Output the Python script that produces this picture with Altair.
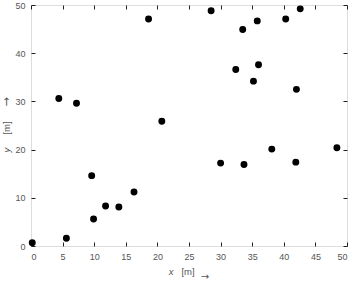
import altair as alt
import pandas as pd

x_vals = [0.2, 5.6, 9.6, 9.9, 11.8, 13.9, 16.3, 4.4, 7.2, 18.6, 20.7, 28.5, 35.8,
          40.3, 42.6, 33.5, 36.0, 32.4, 35.2, 42.0, 30.0, 33.7, 38.1, 41.9, 48.4]
y_vals = [0.7, 1.6, 14.6, 5.6, 8.3, 8.1, 11.2, 30.6, 29.6, 47.1, 25.9, 48.8, 46.7,
          47.1, 49.2, 44.9, 37.6, 36.6, 34.2, 32.5, 17.2, 16.9, 20.1, 17.4, 20.4]
x_ticks = [0, 5, 10, 15, 20, 25, 30, 35, 40, 45, 50]
y_ticks = [0, 10, 20, 30, 40, 50]

df = pd.DataFrame({"x": x_vals, "y": y_vals})

FONT = "Liberation Sans Narrow, Arial Narrow, Liberation Sans, sans-serif"
ARROW_FONT = "DejaVu Sans"
LBL = "#555555"

xscale = alt.Scale(domain=[0, 50], nice=False, zero=False)
yscale = alt.Scale(domain=[0, 50], nice=False, zero=False)

def ax(orient, values, labels=True):
    return alt.Axis(orient=orient, values=values, labels=labels, title=None,
                    grid=False, domain=False, ticks=True, tickSize=4, offset=-4,
                    tickColor="#222222", tickWidth=1,
                    labelFont=FONT, labelFontSize=9, labelColor=LBL,
                    labelPadding=6)

pts = alt.Chart(df).mark_circle(size=48, color="black", opacity=1).encode(
    x=alt.X("x:Q", scale=xscale, axis=ax("bottom", x_ticks)),
    y=alt.Y("y:Q", scale=yscale, axis=ax("left", y_ticks)),
)

ghost = alt.Chart(df).mark_circle(opacity=0).encode(
    x=alt.X("x:Q", scale=xscale, axis=ax("top", x_ticks, labels=False)),
    y=alt.Y("y:Q", scale=yscale, axis=ax("right", y_ticks, labels=False)),
)

tdf = pd.DataFrame({"t": [0]})

def txt(text, x, y, angle=0, italic=False, size=9.5, font=FONT):
    kw = dict(text=text, font=font, fontSize=size, color=LBL, angle=angle)
    if italic:
        kw["fontStyle"] = "italic"
    return alt.Chart(tdf).mark_text(**kw).encode(x=alt.value(x), y=alt.value(y))

titles = [
    txt("x", 140, 267, italic=True),
    txt("[m]", 157, 267),
    txt("\u2192", 174, 272, size=10, font=ARROW_FONT),
    txt("y", -24, 145, angle=270, italic=True),
    txt("[m]", -24, 123, angle=270),
    txt("\u2192", -24, 97, angle=270, size=11, font=ARROW_FONT),
]

chart = alt.layer(pts, ghost, *titles).resolve_axis(
    x="independent", y="independent"
).properties(
    width=316, height=241,
    autosize=alt.AutoSizeParams(type="none"),
    padding={"left": 31, "top": 5, "right": 17, "bottom": 36},
).configure_view(stroke="#333333", strokeWidth=1).configure(background="white")

chart.save("out.html", embed_options={"renderer": "svg", "actions": False})
